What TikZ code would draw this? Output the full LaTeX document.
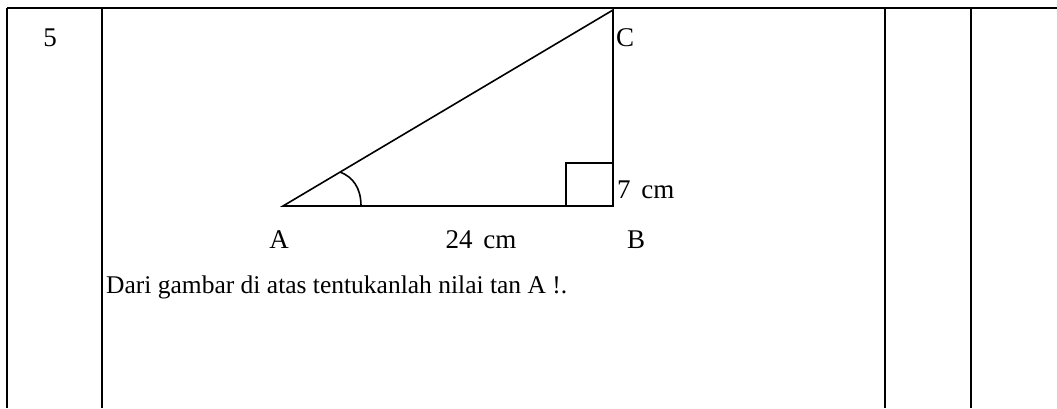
\documentclass[tikz,border=0pt]{standalone}
\usepackage{fontspec}
\setmainfont{Liberation Serif}
\begin{document}
\begin{tikzpicture}[x=1pt,y=-1pt,
  tbl/.style={line width=2pt},
  tri/.style={line width=1.6pt},
  lbl/.style={inner sep=0pt,font=\fontsize{27}{32}\selectfont},
  txt/.style={inner sep=0pt,font=\fontsize{25.5}{31}\selectfont}]
\useasboundingbox (0,0) rectangle (1057,408);
% table
\coordinate (t0) at (7,8);
\coordinate (t1) at (1057,8);
\draw[tbl] (t0) -- (t1);
\foreach \x/\n in {7/v0,102/v1,885/v2,971/v3}{
  \coordinate (\n top) at (\x,8);
  \coordinate (\n bot) at (\x,408);
  \draw[tbl] (\n top) -- (\n bot);
}
\node[lbl,anchor=base] (num) at (50,46) {5};
% triangle
\coordinate (A) at (283,206);
\coordinate (B) at (613,206);
\coordinate (C) at (613,10);
\draw[tri] (A) -- (B) -- (C) -- cycle;
\coordinate (s1) at (566,206);
\coordinate (s2) at (566,163);
\coordinate (s3) at (613,163);
\draw[tri] (s1) -- (s2) -- (s3);
\coordinate (a1) at (361,206);
\coordinate (a2) at (340,172);
\draw[tri] (a1) .. controls (361,188) and (353,177) .. (a2);
% labels
\node[lbl,anchor=base west] (Cl) at (616,46) {C};
\node[lbl,anchor=base west] (h) at (617,198) {7\hspace{0.4em}cm};
\node[lbl,anchor=base] (Al) at (279,248) {A};
\node[lbl,anchor=base] (bl) at (481,248) {24\hspace{0.4em}cm};
\node[lbl,anchor=base] (Bl) at (636,248) {B};
\node[txt,anchor=base west] (q) at (106,293) {Dari gambar di atas tentukanlah nilai tan A !.};
\end{tikzpicture}
\end{document}
